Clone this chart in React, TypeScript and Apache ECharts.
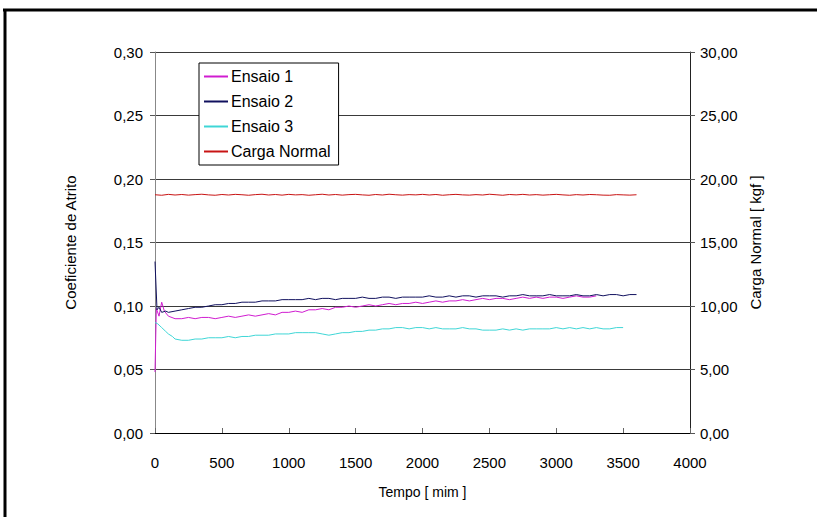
import React, { useEffect, useRef } from "react";
import * as echarts from "echarts";

// Time samples (s) for each test; dense head + regular 50 s grid
const head1 = [0, 10, 30, 50, 70, 100, 150];
const head2 = [0, 15, 30, 50, 80, 100];
const head3 = [0, 20, 50, 80, 100, 130, 150];

const ensaio1Values = [
  0.048, 0.098, 0.092, 0.103, 0.096, 0.092, 0.090,
  0.090, 0.091, 0.090, 0.091, 0.091, 0.090, 0.091, 0.092, 0.091, 0.092,
  0.093, 0.092, 0.093, 0.094, 0.093, 0.095, 0.095, 0.096, 0.095, 0.097,
  0.097, 0.098, 0.097, 0.099, 0.099, 0.100, 0.099, 0.100, 0.101, 0.100,
  0.101, 0.102, 0.101, 0.102, 0.102, 0.103, 0.102, 0.103, 0.104, 0.103,
  0.104, 0.104, 0.105, 0.104, 0.105, 0.106, 0.105, 0.106, 0.106, 0.105,
  0.106, 0.107, 0.106, 0.107, 0.106, 0.107, 0.107, 0.106, 0.107, 0.108,
  0.107, 0.107, 0.108,
];

const ensaio2Values = [
  0.135, 0.097, 0.099, 0.095, 0.096, 0.095,
  0.096, 0.097, 0.098, 0.099, 0.099, 0.100, 0.101, 0.101, 0.102, 0.102,
  0.103, 0.103, 0.103, 0.104, 0.104, 0.104, 0.105, 0.105, 0.105, 0.105,
  0.106, 0.105, 0.106, 0.106, 0.105, 0.106, 0.106, 0.106, 0.107, 0.106,
  0.106, 0.107, 0.107, 0.106, 0.107, 0.107, 0.107, 0.107, 0.108, 0.107,
  0.107, 0.108, 0.107, 0.108, 0.108, 0.107, 0.108, 0.108, 0.108, 0.107,
  0.108, 0.108, 0.109, 0.108, 0.108, 0.108, 0.109, 0.108, 0.108, 0.108,
  0.109, 0.108, 0.108, 0.109, 0.108, 0.109, 0.109, 0.108, 0.109, 0.109,
];

const ensaio3Values = [
  0.087, 0.086, 0.083, 0.080, 0.078, 0.076, 0.074,
  0.073, 0.073, 0.074, 0.074, 0.075, 0.075, 0.075, 0.076, 0.075, 0.076,
  0.076, 0.077, 0.077, 0.077, 0.078, 0.078, 0.078, 0.079, 0.079, 0.079,
  0.079, 0.078, 0.077, 0.078, 0.079, 0.079, 0.080, 0.080, 0.081, 0.081,
  0.082, 0.082, 0.083, 0.083, 0.082, 0.083, 0.083, 0.082, 0.083, 0.082,
  0.082, 0.082, 0.083, 0.082, 0.082, 0.081, 0.081, 0.081, 0.082, 0.081,
  0.082, 0.081, 0.082, 0.082, 0.082, 0.082, 0.083, 0.082, 0.083, 0.082,
  0.083, 0.082, 0.083, 0.082, 0.082, 0.083, 0.083,
];

const cargaValues = [
  18.76, 18.72, 18.79, 18.74, 18.78, 18.73, 18.77, 18.80, 18.75, 18.72,
  18.78, 18.74, 18.79, 18.76, 18.72, 18.77, 18.80, 18.74, 18.78, 18.73,
  18.79, 18.75, 18.77, 18.72, 18.76, 18.80, 18.74, 18.78, 18.73, 18.77,
  18.79, 18.75, 18.72, 18.78, 18.74, 18.80, 18.76, 18.73, 18.77, 18.75,
  18.79, 18.74, 18.78, 18.72, 18.76, 18.79, 18.75, 18.73, 18.77, 18.74,
  18.80, 18.76, 18.72, 18.78, 18.75, 18.79, 18.74, 18.77, 18.73, 18.76,
  18.79, 18.75, 18.72, 18.77, 18.74, 18.78, 18.76, 18.73, 18.72, 18.77,
  18.75, 18.73, 18.76,
];

const seriesNames = ["Ensaio 1", "Ensaio 2", "Ensaio 3", "Carga Normal"];
const seriesColors = ["#D01CD0", "#10105E", "#3FD6D6", "#C81414"];

function times(head: number[], start: number, count: number): number[] {
  const out = head.slice();
  for (let i = 0; i < count; i++) out.push(start + i * 50);
  return out;
}

function pairs(t: number[], v: number[]): number[][] {
  const n = Math.min(t.length, v.length);
  const out: number[][] = [];
  for (let i = 0; i < n; i++) out.push([t[i], v[i]]);
  return out;
}

export default function App() {
  const ref = useRef<HTMLDivElement>(null);
  useEffect(() => {
    if (!ref.current) return;
    const chart = echarts.init(ref.current, null, { renderer: "svg" });
    const t1 = times(head1, 200, ensaio1Values.length - head1.length);
    const t2 = times(head2, 150, ensaio2Values.length - head2.length);
    const t3 = times(head3, 200, ensaio3Values.length - head3.length);
    const t4 = times([], 0, cargaValues.length);
    const font = "Liberation Sans, Arial, sans-serif";
    const fmt = (v: number) => v.toFixed(2).replace(".", ",");
    chart.setOption({
      animation: false,
      backgroundColor: "#fff",
      textStyle: { fontFamily: font },
      grid: { left: 155, right: 127, top: 52, bottom: 84 },
      legend: {
        data: seriesNames,
        orient: "vertical",
        left: 199,
        top: 63,
        backgroundColor: "#fff",
        borderColor: "#000",
        borderWidth: 1,
        borderRadius: 0,
        padding: [4, 8, 4, 5],
        itemGap: 6,
        itemWidth: 24,
        itemHeight: 2,
        icon: "rect",
        textStyle: { fontFamily: font, fontSize: 16, color: "#000", lineHeight: 19, padding: [0, 0, 0, -2] },
      },
      xAxis: {
        type: "value",
        min: 0,
        max: 4000,
        interval: 500,
        name: "Tempo [ mim ]",
        nameLocation: "middle",
        nameGap: 52,
        nameTextStyle: { fontFamily: font, fontSize: 14, color: "#000" },
        axisLine: { show: true, onZero: false, lineStyle: { color: "#000", width: 1 } },
        axisTick: { show: true, inside: true, length: 5, lineStyle: { color: "#666" } },
        axisLabel: { fontFamily: font, fontSize: 15, color: "#000", margin: 22, formatter: (v: number) => String(v) },
        splitLine: { show: false },
      },
      yAxis: [
        {
          type: "value",
          min: 0,
          max: 0.3,
          interval: 0.05,
          name: "Coeficiente de Atrito",
          nameLocation: "middle",
          nameGap: 77,
          nameTextStyle: { fontFamily: font, fontSize: 15, color: "#000" },
          axisLine: { show: true, lineStyle: { color: "#888", width: 1 } },
          axisTick: { show: true, length: 5, lineStyle: { color: "#555" } },
          axisLabel: { fontFamily: font, fontSize: 15, color: "#000", margin: 12, formatter: fmt },
          splitLine: { show: true, lineStyle: { color: "#3a3a3a", width: 1 } },
        },
        {
          type: "value",
          min: 0,
          max: 30,
          interval: 5,
          position: "right",
          name: "Carga Normal [ kgf ]",
          nameLocation: "middle",
          nameGap: 58,
          nameRotate: 90,
          nameTextStyle: { fontFamily: font, fontSize: 15, color: "#000" },
          axisLine: { show: true, lineStyle: { color: "#222", width: 1 } },
          axisTick: { show: true, length: 5, lineStyle: { color: "#555" } },
          axisLabel: { fontFamily: font, fontSize: 15, color: "#000", margin: 10, formatter: fmt },
          splitLine: { show: false },
        },
      ],
      series: [
        { name: seriesNames[0], type: "line", yAxisIndex: 0, data: pairs(t1, ensaio1Values), showSymbol: false, symbol: "none", lineStyle: { width: 1, color: seriesColors[0] }, itemStyle: { color: seriesColors[0] }, z: 3 },
        { name: seriesNames[1], type: "line", yAxisIndex: 0, data: pairs(t2, ensaio2Values), showSymbol: false, symbol: "none", lineStyle: { width: 1, color: seriesColors[1] }, itemStyle: { color: seriesColors[1] }, z: 4 },
        { name: seriesNames[2], type: "line", yAxisIndex: 0, data: pairs(t3, ensaio3Values), showSymbol: false, symbol: "none", lineStyle: { width: 1, color: seriesColors[2] }, itemStyle: { color: seriesColors[2] }, z: 3 },
        { name: seriesNames[3], type: "line", yAxisIndex: 1, data: pairs(t4, cargaValues), showSymbol: false, symbol: "none", lineStyle: { width: 1, color: seriesColors[3] }, itemStyle: { color: seriesColors[3] }, z: 3 },
      ],
      graphic: [
        { type: "rect", shape: { x: 806, y: 12, width: 11, height: 505 }, style: { fill: "#fff" }, silent: true, z: 90 },
        { type: "line", shape: { x1: 3, y1: 10, x2: 817, y2: 10 }, style: { stroke: "#000", lineWidth: 3 }, silent: true, z: 100 },
        { type: "line", shape: { x1: 5, y1: 9, x2: 5, y2: 517 }, style: { stroke: "#000", lineWidth: 3 }, silent: true, z: 100 },
      ],
    });
    return () => chart.dispose();
  }, []);
  return (
    <div
      ref={ref}
      style={{ position: "fixed", left: 0, top: 0, width: 817, height: 517 }}
    />
  );
}
